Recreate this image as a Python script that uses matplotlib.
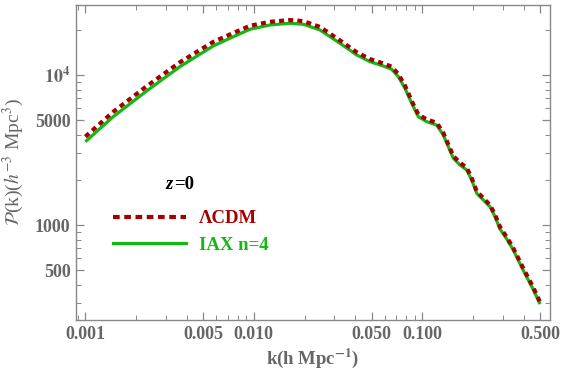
import matplotlib
matplotlib.use("Agg")
import matplotlib.pyplot as plt
from matplotlib.lines import Line2D
from matplotlib.ticker import FixedLocator, FixedFormatter, LogLocator, NullFormatter

# k values (h/Mpc)
k = [0.001, 0.001463, 0.002309, 0.003641, 0.005741, 0.007212, 0.00948, 0.01246,
     0.01638, 0.01965, 0.02469, 0.03246, 0.04079, 0.04891, 0.05868, 0.06583,
     0.07205, 0.07894, 0.08653, 0.09467, 0.1062, 0.1217, 0.1332, 0.1427,
     0.1528, 0.1675, 0.1836, 0.1965, 0.2104, 0.2303, 0.2523, 0.2702, 0.2893,
     0.3171, 0.347, 0.399, 0.4544, 0.5]

# LCDM power spectrum
p_lcdm = [3880, 5680, 8410, 12160, 16620, 18620, 21280, 22620, 23230, 22870,
          20910, 17000, 14180, 12760, 11940, 11350, 10130, 8480, 6700, 5460,
          5060, 4800, 4120, 3440, 2880, 2600, 2410, 2050, 1680, 1510, 1360,
          1170, 970, 830, 700, 510, 385, 306]

# IAX n=4 power spectrum
p_iax = [3592, 5272, 7823, 11360, 15610, 17570, 20170, 21540, 22120, 21780,
         19950, 16270, 13600, 12270, 11480, 10910, 9742, 8152, 6475, 5272,
         4884, 4642, 3981, 3327, 2785, 2512, 2326, 1995, 1627, 1468, 1324,
         1136, 940, 807, 681, 494, 374, 297]

x_ticks = [0.001, 0.005, 0.01, 0.05, 0.1, 0.5]
x_labels = ["0.001", "0.005", "0.010", "0.050", "0.100", "0.500"]
y_ticks = [500, 1000, 5000, 10000]
y_labels = ["500", "1000", "5000", r"$\mathbf{10^4}$"]

red = "#a50000"
green = "#14b814"
gray = "#666666"

plt.rcParams["font.family"] = ["Liberation Serif", "DejaVu Serif"]
plt.rcParams["mathtext.fontset"] = "stix"

fig = plt.figure(figsize=(5.63, 3.80), dpi=100)
ax = fig.add_axes([0.135, 0.158, 0.842, 0.829])

ax.plot(k, p_iax, color=green, lw=2.3, solid_capstyle="butt", zorder=2)
ax.plot(k, p_lcdm, color=red, lw=3.0, linestyle=(0, (1.2, 1.0)), zorder=3)

ax.set_xscale("log")
ax.set_yscale("log")
ax.set_xlim(0.00088, 0.573)
ax.set_ylim(233, 29300)

ax.xaxis.set_major_locator(FixedLocator(x_ticks))
ax.xaxis.set_major_formatter(FixedFormatter(x_labels))
ax.xaxis.set_minor_locator(LogLocator(base=10, subs=range(2, 10), numticks=20))
ax.xaxis.set_minor_formatter(NullFormatter())
ax.yaxis.set_major_locator(FixedLocator(y_ticks))
ax.yaxis.set_major_formatter(FixedFormatter(y_labels))
ax.yaxis.set_minor_locator(LogLocator(base=10, subs=range(2, 10), numticks=20))
ax.yaxis.set_minor_formatter(NullFormatter())

ax.tick_params(which="both", direction="in", top=True, right=True, color="#888888")
ax.tick_params(which="major", length=6, width=0.9, labelsize=13, labelcolor=gray, pad=4)
ax.tick_params(which="minor", length=3.5, width=0.7)
for lab in ax.get_xticklabels() + ax.get_yticklabels():
    lab.set_fontweight("bold")
for sp in ax.spines.values():
    sp.set_color("#888888")
    sp.set_linewidth(1.0)

ax.set_xlabel(r"k(h Mpc$^{\mathbf{-1}}$)", fontsize=13.5, fontweight="bold", color=gray, labelpad=3)
ax.set_ylabel(r"$\mathcal{P}$(k)($h^{-3}$ Mpc$^3$)", fontsize=14, color=gray, labelpad=6)

ax.text(0.188, 0.429, "z", transform=ax.transAxes, fontsize=13.5, fontweight="bold",
        fontstyle="italic", color="black", ha="left", va="center")
ax.text(0.207, 0.429, "=0", transform=ax.transAxes, fontsize=13.5, fontweight="bold",
        color="black", ha="left", va="center")

handles = [Line2D([], [], color=red, lw=3.0, linestyle=(0, (1.6, 1.1))),
           Line2D([], [], color=green, lw=2.3)]
leg = ax.legend(handles, ["ΛCDM", "IAX n=4"], loc="upper left",
                bbox_to_anchor=(0.078, 0.348), frameon=False, handlelength=3.9,
                handletextpad=0.7, labelspacing=0.5, borderpad=0, borderaxespad=0,
                prop={"weight": "bold", "size": 13.5}, labelcolor=[red, green])

fig.savefig("out.png", dpi=100)
